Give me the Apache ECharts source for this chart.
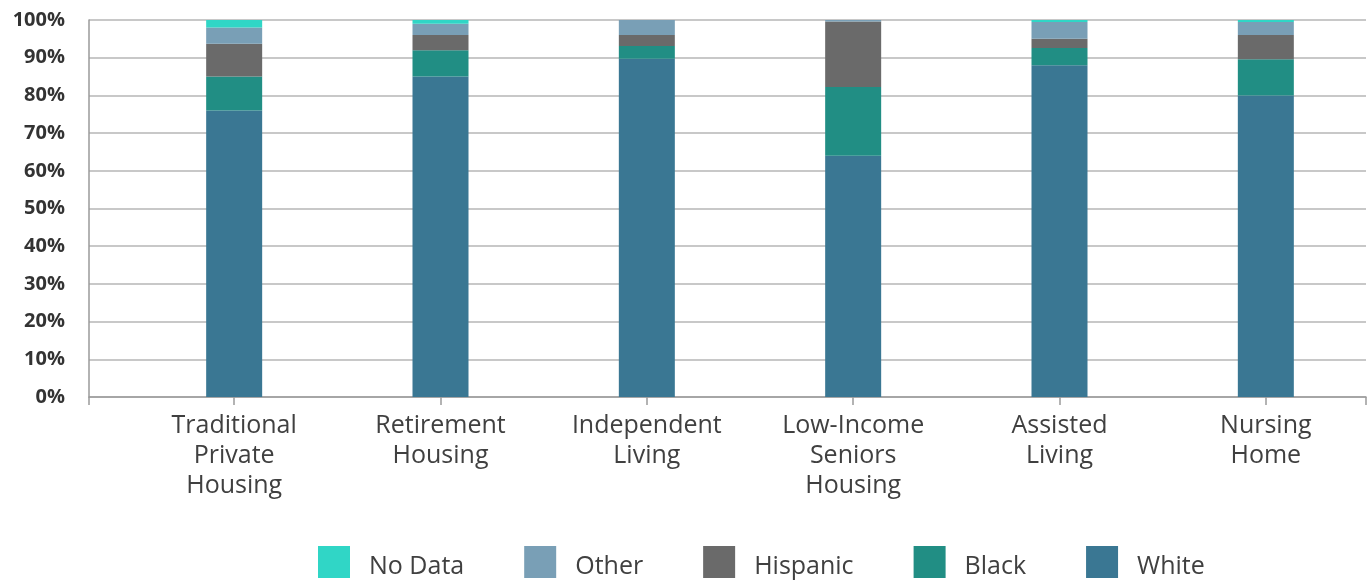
<!DOCTYPE html>
<html>
<head>
<meta charset="utf-8">
<script src="https://cdn.jsdelivr.net/npm/echarts@6/dist/echarts.min.js"></script>
<style>html,body{margin:0;padding:0;background:#fff}#c{width:1369px;height:580px}</style>
</head>
<body>
<div id="c"></div>
<script>
const categories = ['Traditional\nPrivate\nHousing', 'Retirement\nHousing', 'Independent\nLiving', 'Low-Income\nSeniors\nHousing', 'Assisted\nLiving', 'Nursing\nHome'];
const white    = [76.0, 85.0, 89.7, 64.0, 88.0, 80.0];
const black    = [9.0, 7.0, 3.4, 18.2, 4.6, 9.6];
const hispanic = [8.7, 4.0, 2.9, 17.4, 2.4, 6.4];
const other    = [4.3, 3.0, 4.0, 0.4, 4.5, 3.5];
const noData   = [2.0, 1.0, 0.0, 0.0, 0.5, 0.5];
const yTicks = [0, 10, 20, 30, 40, 50, 60, 70, 80, 90, 100];
const legendOrder = ['No Data', 'Other', 'Hispanic', 'Black', 'White'];
const colors = {White: '#3a7793', Black: '#218e84', Hispanic: '#6a6a6a', Other: '#799fb6', 'No Data': '#30d6c6'};

const seriesDefs = [['White', white], ['Black', black], ['Hispanic', hispanic], ['Other', other], ['No Data', noData]];
const font = "'Open Sans', 'Noto Sans', sans-serif";
const chart = echarts.init(document.getElementById('c'), null, {renderer: 'canvas'});
chart.setOption({
  animation: false,
  grid: [
    {left: 89, right: 3, top: 20, bottom: 183},
    {left: 131, width: 1244, top: 20, bottom: 183}
  ],
  xAxis: [
    {gridIndex: 0, type: 'value', min: 0, max: 1, interval: 1,
     axisLine: {show: true, lineStyle: {color: '#9a9a9a', width: 1.5}},
     axisTick: {show: true, length: 8, lineStyle: {color: '#9a9a9a', width: 1.5}},
     axisLabel: {show: false}, splitLine: {show: false}},
    {gridIndex: 1, type: 'category', data: categories,
     axisLine: {show: false},
     axisTick: {show: true, alignWithLabel: true, length: 8, lineStyle: {color: '#9a9a9a', width: 1.5}},
     axisLabel: {fontFamily: font, fontSize: 25, color: '#404040', lineHeight: 30, margin: 14, interval: 0}}
  ],
  yAxis: [
    {gridIndex: 0, type: 'value', min: yTicks[0], max: yTicks[yTicks.length - 1], interval: 10,
     axisLine: {show: true, lineStyle: {color: '#9a9a9a', width: 1.5}},
     axisTick: {show: false},
     axisLabel: {formatter: '{value}%', fontFamily: font, fontWeight: 'bold', fontSize: 20, color: '#333', margin: 24},
     splitLine: {show: true, lineStyle: {color: '#c8c8c8', width: 2}}},
    {gridIndex: 1, type: 'value', min: 0, max: 100, show: false}
  ],
  legend: {
    data: legendOrder, left: 313, top: 541, itemWidth: 32, itemHeight: 32, itemGap: 60, icon: 'rect',
    formatter: name => '{t|' + name + '}',
    textStyle: {fontFamily: font, fontSize: 25, color: '#404040', padding: [0, 0, 0, 14],
      rich: {t: {fontFamily: font, fontSize: 25, color: '#404040', padding: [10, 0, 0, 0]}}}
  },
  series: seriesDefs.map(([name, vals]) => ({
    name, type: 'bar', stack: 'total', xAxisIndex: 1, yAxisIndex: 1, barWidth: 56,
    itemStyle: {color: colors[name]}, data: vals
  }))
});
</script>
</body>
</html>
